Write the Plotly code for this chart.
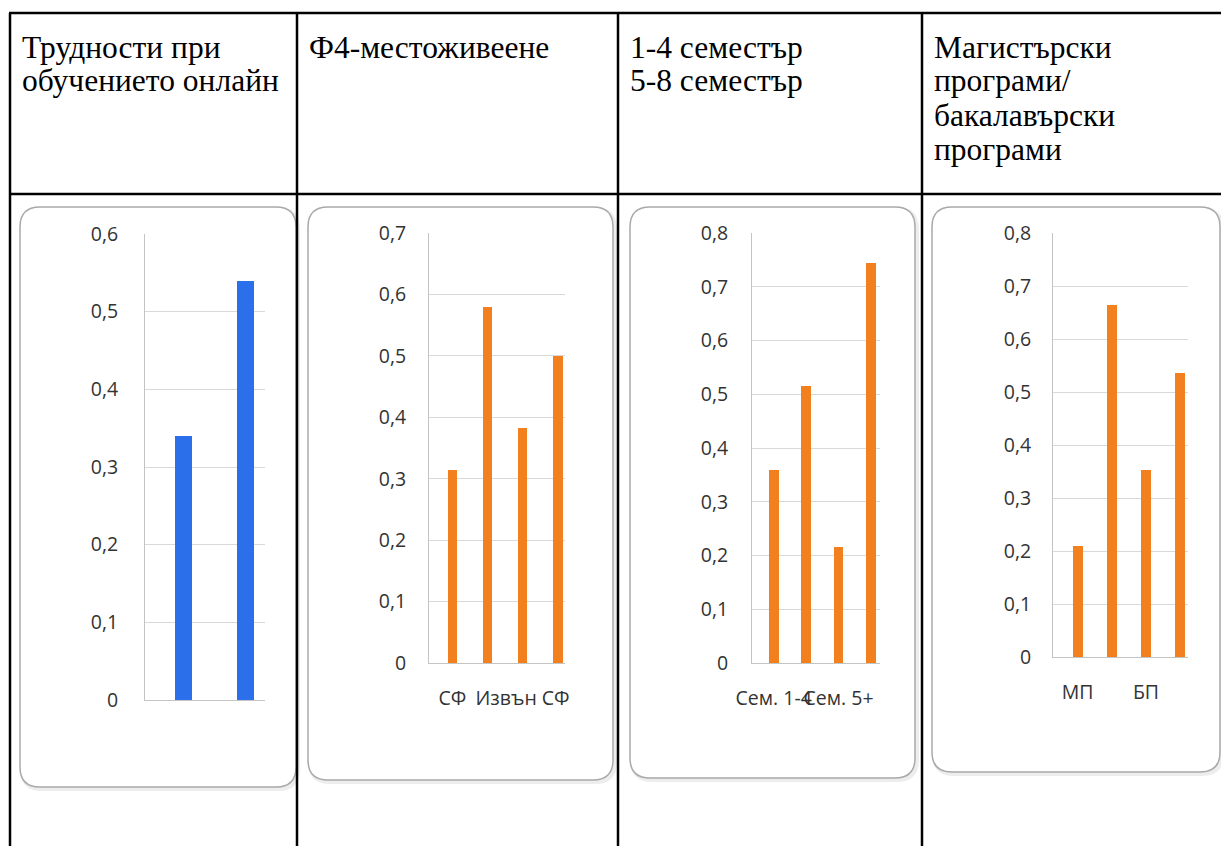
import plotly.graph_objects as go

# текст в заглавния ред на таблицата (по редове)
headers = [
    ["Трудности при", "обучението онлайн"],
    ["Ф4-местоживеене"],
    ["1-4 семестър", "5-8 семестър"],
    ["Магистърски", "програми/", "бакалавърски", "програми"],
]

# графика 1 - трудности при обучението онлайн
diff_cats = ["1", "2"]
diff_vals = [0.34, 0.54]

# графика 2 - местоживеене (Excel показва всеки втори надпис)
home_cats = ["СФ", "СФ ", "Извън СФ", "Извън СФ "]
home_vals = [0.315, 0.58, 0.382, 0.50]

# графика 3 - семестър
sem_cats = ["Сем. 1-4", "Сем. 1-4 ", "Сем. 5+", "Сем. 5+ "]
sem_vals = [0.36, 0.515, 0.215, 0.745]

# графика 4 - магистърски / бакалавърски програми
prog_cats = ["МП", "МП ", "БП", "БП "]
prog_vals = [0.21, 0.665, 0.353, 0.535]

# страницата има отстъп 8px от body, затова фигурата е по-малка
OFF = 8
W, H = 1229 - OFF, 846 - OFF
BLUE = "#2C6FEA"
ORANGE = "#F3801F"
TICK_FONT = dict(family="Open Sans", size=19.5, color="#333333")


def px(x):
    return (x - OFF) / W


def py(y):
    return 1 - (y - OFF) / H


def rounded(x0, y0, x1, y1, r=20):
    X0, X1, Y0, Y1 = px(x0), px(x1), py(y0), py(y1)
    rx, ry = r / W, r / H
    return (f"M {X0 + rx},{Y0} L {X1 - rx},{Y0} Q {X1},{Y0} {X1},{Y0 - ry} "
            f"L {X1},{Y1 + ry} Q {X1},{Y1} {X1 - rx},{Y1} "
            f"L {X0 + rx},{Y1} Q {X0},{Y1} {X0},{Y1 + ry} "
            f"L {X0},{Y0 - ry} Q {X0},{Y0} {X0 + rx},{Y0} Z")


# разположение на графиките в пиксели (координати на екрана)
panels = [
    dict(cats=diff_cats, vals=diff_vals, color=BLUE, x0=145, x1=265, y0=700, y1=234,
         ymax=0.6, xr=[-0.63, 1.32], width=0.28, stand=22, labels=False),
    dict(cats=home_cats, vals=home_vals, color=ORANGE, x0=429, x1=565, y0=663, y1=233,
         ymax=0.7, xr=[-0.67, 3.21], width=0.28, stand=18, labels=True),
    dict(cats=sem_cats, vals=sem_vals, color=ORANGE, x0=752, x1=880, y0=663, y1=233,
         ymax=0.8, xr=[-0.67, 3.28], width=0.3, stand=19, labels=True),
    dict(cats=prog_cats, vals=prog_vals, color=ORANGE, x0=1053, x1=1188, y0=657, y1=233,
         ymax=0.8, xr=[-0.72, 3.23], width=0.29, stand=17, labels=True),
]
boxes = [(20, 207, 296, 787), (308, 207, 613, 780), (630, 207, 915, 778), (932, 207, 1220, 772)]
col_x = [10, 297, 618, 922]

fig = go.Figure()
layout = {}

for i, p in enumerate(panels):
    n = "" if i == 0 else str(i + 1)
    fig.add_trace(go.Bar(
        x=p["cats"], y=p["vals"],
        marker=dict(color=p["color"], line=dict(width=0)),
        width=p["width"],
        xaxis="x" + n, yaxis="y" + n,
        showlegend=False,
        hovertemplate="%{y}<extra></extra>",
    ))
    layout["xaxis" + n] = dict(
        domain=[px(p["x0"]), px(p["x1"])], range=p["xr"], type="category",
        anchor="y" + n, showgrid=False, zeroline=False, automargin=False,
        showline=True, linecolor="#c4c4c4", linewidth=1,
        ticks="outside", ticklen=18, tickcolor="rgba(0,0,0,0)",
        tickangle=0, tick0=0, dtick=2,
        showticklabels=p["labels"], tickfont=TICK_FONT, fixedrange=True,
    )
    layout["yaxis" + n] = dict(
        domain=[py(p["y0"]), py(p["y1"])], range=[0, p["ymax"]],
        anchor="x" + n, dtick=0.1, tick0=0, automargin=False,
        showgrid=True, gridcolor="#d9d9d9", gridwidth=1, zeroline=False,
        showline=True, linecolor="#c4c4c4", linewidth=1,
        ticks="outside", ticklen=p["stand"], tickcolor="rgba(0,0,0,0)",
        tickfont=TICK_FONT, fixedrange=True,
    )

shapes = []
# рамки на графиките със заоблени ъгли
for (x0, y0, x1, y1) in boxes:
    shapes.append(dict(type="path", xref="paper", yref="paper", layer="below",
                       path=rounded(x0 + 2, y0 + 2, x1 + 2, y1 + 2),
                       line=dict(color="rgba(0,0,0,0.07)", width=4)))
    shapes.append(dict(type="path", xref="paper", yref="paper", layer="below",
                       path=rounded(x0, y0, x1, y1), fillcolor="white",
                       line=dict(color="#a9a9a9", width=1.5)))

# линии на таблицата
for y in (13, 194):
    shapes.append(dict(type="line", xref="paper", yref="paper",
                       x0=px(col_x[0] - 1), x1=1, y0=py(y), y1=py(y),
                       line=dict(color="black", width=2.5)))
for x in col_x:
    shapes.append(dict(type="line", xref="paper", yref="paper",
                       x0=px(x), x1=px(x), y0=py(13), y1=0,
                       line=dict(color="black", width=2.5)))

annotations = []
for x, lines in zip(col_x, headers):
    for k, line in enumerate(lines):
        annotations.append(dict(
            text=line, xref="paper", yref="paper",
            x=px(x + 11), y=py(47 + 34 * k), xanchor="left", yanchor="middle",
            showarrow=False, borderpad=0,
            font=dict(family="Liberation Serif", size=31.5, color="black"),
        ))

fig.update_layout(
    **layout,
    shapes=shapes,
    annotations=annotations,
    width=W, height=H,
    margin=dict(l=0, r=0, t=0, b=0, pad=0, autoexpand=False),
    paper_bgcolor="white",
    plot_bgcolor="rgba(0,0,0,0)",
    separators=", ",
    bargap=0,
)

fig.write_html("out.html")
